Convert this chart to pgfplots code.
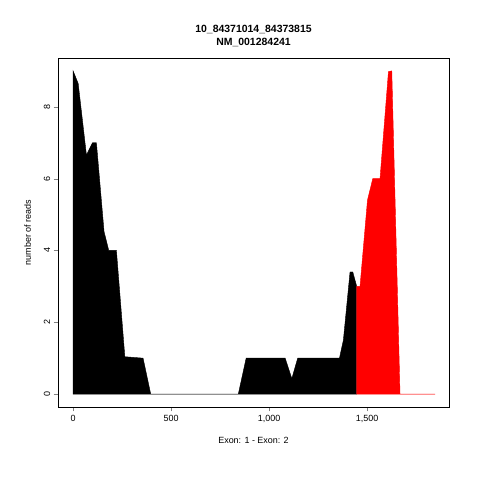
\documentclass[border=0pt]{standalone}
\usepackage{pgfplots}
\pgfplotsset{compat=1.18}
\usepackage{fontspec}
\setmainfont{Liberation Sans}
\begin{document}
\begin{tikzpicture}[x=1bp,y=1bp]
\path[fill=white] (0,0) rectangle (480,480);
\begin{axis}[at={(58bp,73bp)},anchor=south west,scale only axis,width=391bp,height=349bp,
 xmin=-77,xmax=1918,ymin=-0.36,ymax=9.36,
 xtick={0,500,1000,1500},ytick={0,2,4,6,8},
 tick align=outside,tick pos=left,
 /pgf/number format/assume math mode=true,
 ticklabel style={font=\fontsize{9}{10}\selectfont},
 yticklabel style={rotate=90,anchor=south},
 xlabel={Exon: 1 - Exon: 2},ylabel={number of reads},
 label style={font=\fontsize{9}{10}\selectfont},
 xlabel style={yshift=-8bp},ylabel style={yshift=6bp},
 title={\textbf{10\_84371014\_84373815}\\\textbf{NM\_001284241}},
 title style={align=center,font=\fontsize{10.5}{13}\selectfont,yshift=2bp},
 axis line style={black},
]
\addplot[fill=black,draw=black] coordinates {(0,9) (26,8.65) (68,6.66) (99,7) (119,7) (158,4.52) (182,4) (221,4) (264,1.04) (357,1) (396,0) (843,0) (883,1) (1082,1) (1116,0.43) (1146,1) (1359,1) (1379,1.5) (1413,3.4) (1427,3.4) (1447,3.0) (1447,0)} \closedcycle;
\addplot[fill=red,draw=red] coordinates {(1447,3.0) (1464,3.0) (1502,5.4) (1529,6) (1566,6) (1609,8.98) (1626,9) (1668,0) (1847,0)} \closedcycle;
\end{axis}
\end{tikzpicture}
\end{document}
